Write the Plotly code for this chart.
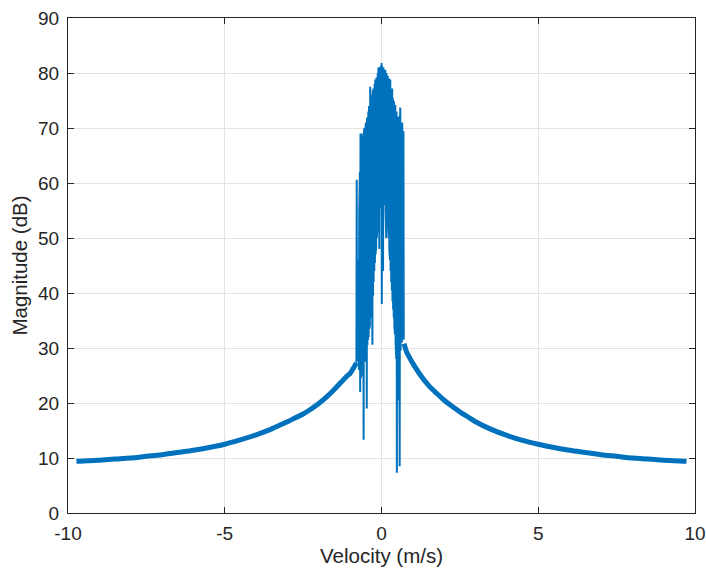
import numpy as np
import plotly.graph_objects as go

# Left and right tails of the spectrum (velocity m/s, magnitude dB)
left_v = [-9.73, -9.5, -9, -8.5, -8, -7.5, -7, -6.5, -6, -5.5, -5, -4.5, -4, -3.5, -3,
          -2.75, -2.5, -2.25, -2, -1.75, -1.5, -1.25, -1.1, -1.0, -0.9, -0.8]
left_db = [9.4, 9.45, 9.6, 9.8, 10.0, 10.3, 10.6, 11.0, 11.4, 11.9, 12.5, 13.3, 14.2, 15.3, 16.6,
           17.3, 18.0, 18.9, 19.9, 21.1, 22.5, 24.0, 24.9, 25.4, 26.3, 27.3]
right_v = [0.72, 0.8, 0.9, 1.0, 1.25, 1.5, 1.75, 2.0, 2.25, 2.5, 2.75, 3.0, 3.5, 4.0, 4.5,
           5.0, 5.5, 6.0, 6.5, 7.0, 7.5, 8.0, 8.5, 9.0, 9.5, 9.73]
right_db = [30.8, 29.3, 28.2, 27.2, 25.0, 23.2, 21.8, 20.5, 19.4, 18.4, 17.5, 16.6, 15.2, 14.1, 13.2,
            12.5, 11.9, 11.4, 11.0, 10.6, 10.3, 10.0, 9.8, 9.6, 9.45, 9.4]

# Central (target) region: velocity bins every 0.01 m/s from -0.80 to 0.71
center_v = np.round(np.arange(-0.80, 0.715, 0.01), 2)
center_db = [
    27.3, 60.6, 27.6, 28.2, 27.9, 29.0, 28.4, 46.0, 26.0, 55.0,
    25.0, 62.0, 22.0, 69.0, 24.5, 67.8, 26.0, 69.0, 25.0, 66.5,
    27.0, 68.5, 26.5, 13.3, 69.5, 28.0, 70.0, 27.5, 68.0, 29.0,
    71.0, 28.5, 70.2, 19.0, 71.8, 30.5, 72.0, 31.5, 73.0, 32.0,
    74.0, 33.5, 73.2, 34.0, 77.5, 35.5, 75.0, 36.5, 76.0, 37.0,
    75.5, 30.6, 76.8, 39.5, 77.2, 42.0, 76.5, 44.0, 78.0, 45.5,
    78.8, 47.0, 77.5, 48.5, 79.2, 50.0, 78.6, 52.0, 80.0, 53.5,
    81.0, 55.0, 79.8, 48.0, 80.6, 56.5, 81.2, 55.5, 80.4, 57.0,
    81.8, 38.0, 81.3, 56.0, 80.2, 44.0, 81.0, 57.5, 79.6, 56.0,
    80.5, 57.0, 80.6, 55.0, 79.4, 50.0, 80.0, 56.5, 79.0, 54.0,
    79.5, 52.5, 78.2, 50.0, 79.0, 48.0, 77.6, 46.0, 78.8, 44.0,
    77.0, 42.0, 76.5, 40.5, 77.2, 38.5, 75.5, 37.0, 75.0, 35.5,
    74.8, 34.0, 73.5, 32.5, 74.2, 31.0, 72.5, 28.0, 73.0, 7.3,
    72.0, 26.0, 71.0, 22.0, 72.1, 20.5, 70.5, 27.0, 8.5, 71.5,
    73.7, 29.5, 70.0, 30.5, 68.5, 31.0, 71.0, 32.0, 66.0, 33.0,
    69.4, 31.5,
]

x_ticks = [-10, -5, 0, 5, 10]
y_ticks = [0, 10, 20, 30, 40, 50, 60, 70, 80, 90]

color = "#0072BD"
fig = go.Figure()
fig.add_trace(go.Scatter(x=left_v, y=left_db, mode="lines",
                         line=dict(color=color, width=5, shape="spline"), showlegend=False))
fig.add_trace(go.Scatter(x=list(center_v[:len(center_db)]), y=center_db, mode="lines",
                         line=dict(color=color, width=2.0), showlegend=False))
fig.add_trace(go.Scatter(x=right_v, y=right_db, mode="lines",
                         line=dict(color=color, width=5, shape="spline"), showlegend=False))

axis_common = dict(
    showgrid=True, gridcolor="#e3e3e3", gridwidth=1,
    showline=True, linecolor="#262626", linewidth=1, mirror="ticks",
    ticks="inside", ticklen=6, tickcolor="#262626",
    zeroline=False, automargin=False,
    tickfont=dict(family="Liberation Sans, Arial", size=19, color="#262626"),
    title_font=dict(family="Liberation Sans, Arial", size=20.5, color="#262626"),
)

fig.update_xaxes(range=[-10, 10], tickvals=x_ticks, ticktext=[str(t) for t in x_ticks],
                 title_text="Velocity (m/s)", title_standoff=0, ticklabelstandoff=3, **axis_common)
fig.update_yaxes(range=[0, 90], tickvals=y_ticks, ticktext=[str(t) for t in y_ticks],
                 title_text="Magnitude (dB)", title_standoff=4, ticklabelstandoff=4, **axis_common)

fig.update_layout(
    width=706, height=575,
    margin=dict(l=68, r=11, t=18, b=62),
    paper_bgcolor="white", plot_bgcolor="white",
)

fig.write_html("out.html")
